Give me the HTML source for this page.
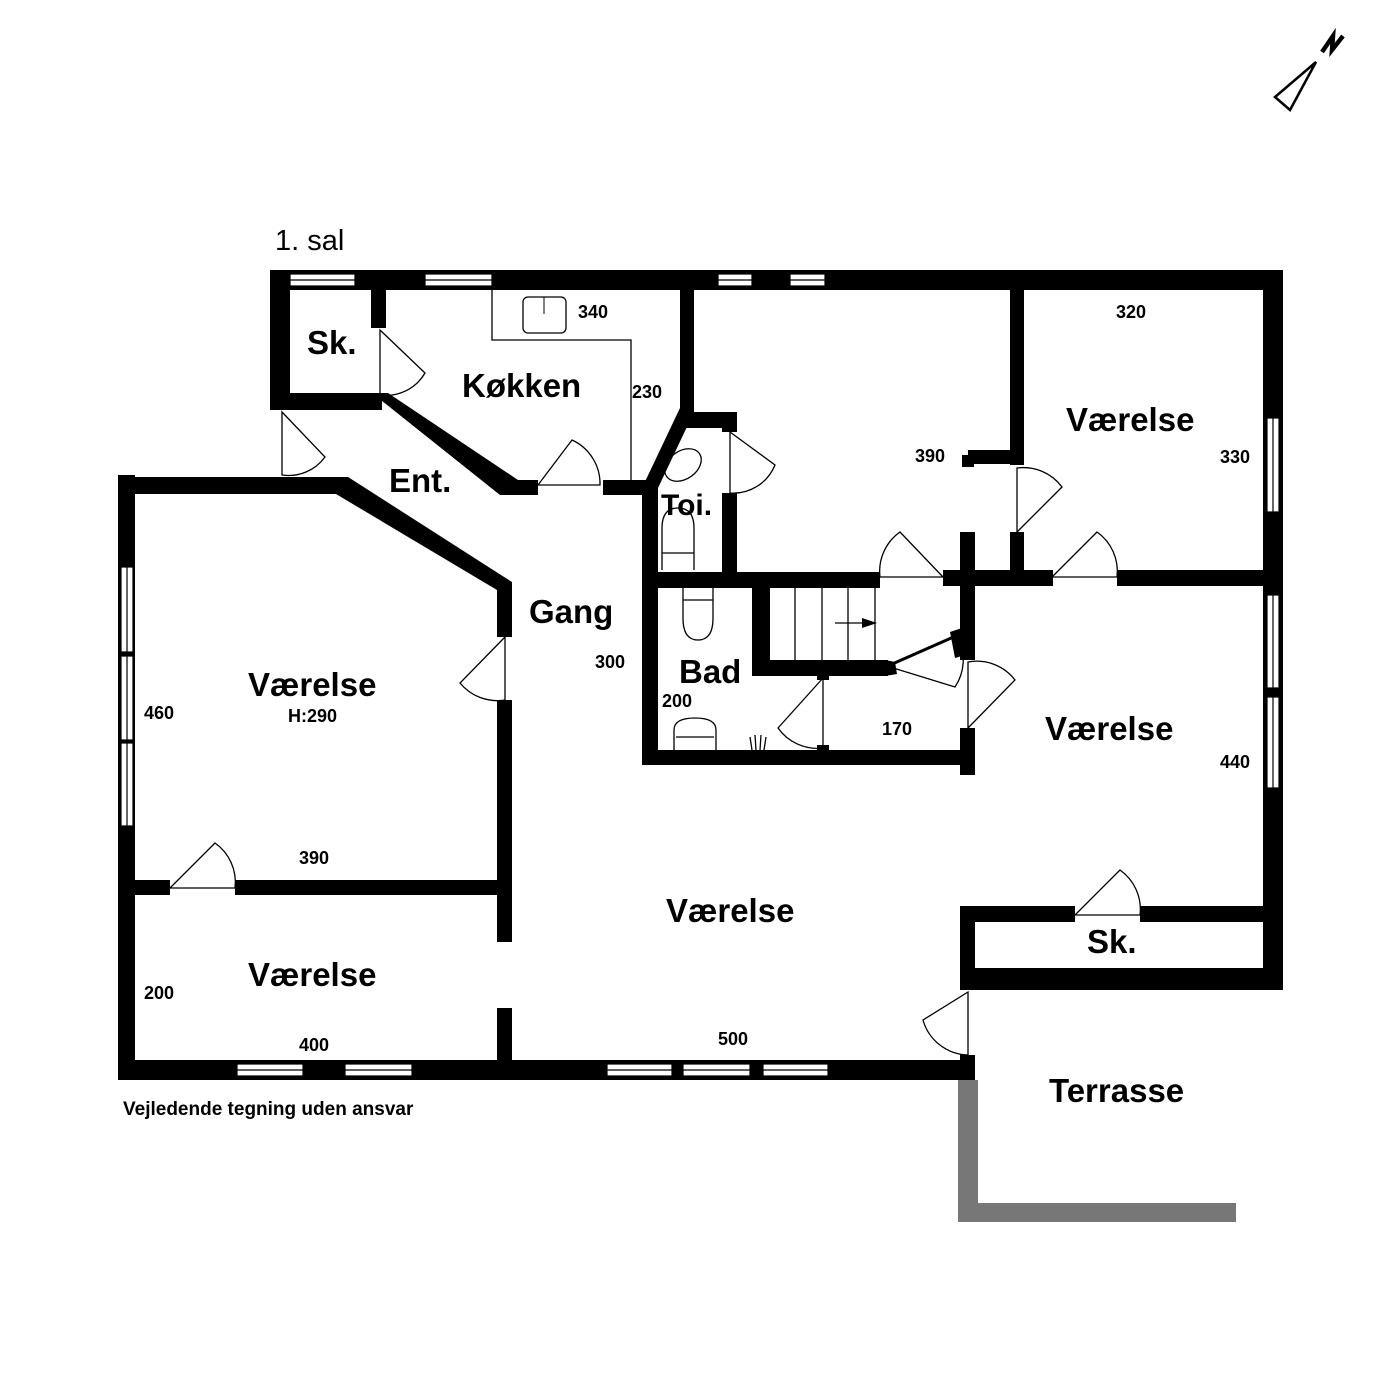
<!DOCTYPE html>
<html><head><style>
body{margin:0;background:#fff}
svg{display:block}
text{font-family:"Liberation Sans",Arial,sans-serif;fill:#000;font-weight:bold}
.r{font-size:33px}
.d{font-size:18px}
.door{fill:none;stroke:#000;stroke-width:1.3}
.win{fill:#fff;stroke:#000;stroke-width:1.2}
</style></head><body>
<svg width="1400" height="1400" viewBox="0 0 1400 1400" xmlns="http://www.w3.org/2000/svg">
<rect width="1400" height="1400" fill="#fff"/>
<!-- north arrow -->
<polygon points="1275,97 1290,110 1316,62" fill="none" stroke="#000" stroke-width="2.5"/>
<path d="M1322,52 L1333,36 L1332,50 L1343,36" fill="none" stroke="#000" stroke-width="4.5"/>
<g fill="#000">
<rect x="270" y="270" width="1013" height="20"/>
<rect x="1263" y="270" width="20" height="720"/>
<rect x="270" y="270" width="20" height="140"/>
<rect x="270" y="393" width="112" height="17"/>
<rect x="371" y="290" width="15" height="38"/>
<polygon points="372,393 388,393 518,480 510,495 500,495"/>
<rect x="505" y="480" width="33" height="15"/>
<rect x="603" y="480" width="55" height="15"/>
<rect x="680" y="290" width="14" height="122"/>
<polygon points="680,408 694,412 658,488 642,488"/>
<rect x="680" y="412" width="57" height="16"/>
<rect x="642" y="480" width="16" height="285"/>
<rect x="722" y="412" width="15" height="20"/>
<rect x="722" y="493" width="15" height="85"/>
<rect x="642" y="572" width="238" height="16"/>
<rect x="752" y="572" width="18" height="104"/>
<rect x="752" y="660" width="136" height="16"/>
<polygon points="885,660 895,662 897,674 885,676"/>
<rect x="817" y="672" width="12" height="8"/>
<rect x="817" y="745" width="12" height="8"/>
<rect x="943" y="570" width="110" height="16"/>
<rect x="960" y="532" width="15" height="128"/>
<polygon points="950,632 962,628 962,656 955,658"/>
<rect x="960" y="728" width="15" height="47"/>
<rect x="1117" y="570" width="166" height="16"/>
<rect x="1010" y="290" width="14" height="175"/>
<rect x="1010" y="532" width="14" height="42"/>
<rect x="968" y="450" width="48" height="14"/>
<rect x="962" y="455" width="12" height="12"/>
<rect x="642" y="750" width="333" height="15"/>
<rect x="118" y="475" width="17" height="605"/>
<rect x="118" y="477" width="227" height="17"/>
<polygon points="340,477 348,477 512,582 512,596 497,596 497,590 336,494"/>
<rect x="497" y="590" width="15" height="47"/>
<rect x="497" y="700" width="15" height="242"/>
<rect x="497" y="1008" width="15" height="60"/>
<rect x="118" y="880" width="52" height="15"/>
<rect x="235" y="880" width="262" height="15"/>
<rect x="118" y="1060" width="857" height="20"/>
<rect x="960" y="906" width="115" height="16"/>
<rect x="1140" y="906" width="143" height="16"/>
<rect x="960" y="968" width="323" height="22"/>
<rect x="960" y="906" width="15" height="84"/>
<rect x="960" y="1055" width="15" height="25"/>
</g>
<polygon points="958,1080 978,1080 978,1203 1236,1203 1236,1222 958,1222" fill="#777"/>
<g class="win">
<rect x="290" y="274" width="65" height="12"/><line x1="290" y1="280" x2="355" y2="280" stroke="#000"/>
<rect x="425" y="274" width="67" height="12"/><line x1="425" y1="280" x2="492" y2="280" stroke="#000"/>
<rect x="718" y="274" width="34" height="12"/><line x1="718" y1="280" x2="752" y2="280" stroke="#000"/>
<rect x="790" y="274" width="35" height="12"/><line x1="790" y1="280" x2="825" y2="280" stroke="#000"/>
<rect x="1267" y="418" width="12" height="94"/><line x1="1273" y1="418" x2="1273" y2="512" stroke="#000"/>
<rect x="1267" y="595" width="12" height="93"/><line x1="1273" y1="595" x2="1273" y2="688" stroke="#000"/>
<rect x="1267" y="697" width="12" height="91"/><line x1="1273" y1="697" x2="1273" y2="788" stroke="#000"/>
<rect x="121" y="567" width="12" height="85"/><line x1="127" y1="567" x2="127" y2="652" stroke="#000"/>
<rect x="121" y="656" width="12" height="84"/><line x1="127" y1="656" x2="127" y2="740" stroke="#000"/>
<rect x="121" y="743" width="12" height="83"/><line x1="127" y1="743" x2="127" y2="826" stroke="#000"/>
<rect x="237" y="1064" width="66" height="12"/><line x1="237" y1="1070" x2="303" y2="1070" stroke="#000"/>
<rect x="345" y="1064" width="67" height="12"/><line x1="345" y1="1070" x2="412" y2="1070" stroke="#000"/>
<rect x="607" y="1064" width="65" height="12"/><line x1="607" y1="1070" x2="672" y2="1070" stroke="#000"/>
<rect x="683" y="1064" width="67" height="12"/><line x1="683" y1="1070" x2="750" y2="1070" stroke="#000"/>
<rect x="763" y="1064" width="65" height="12"/><line x1="763" y1="1070" x2="828" y2="1070" stroke="#000"/>
</g>
<path d="M492,290 L492,340 L631,340 L631,480" class="door"/>
<rect x="523" y="297" width="43" height="36" rx="5" class="door"/>
<line x1="544" y1="297" x2="544" y2="314" stroke="#000"/>
<g stroke="#000" stroke-width="1.3">
<line x1="795" y1="588" x2="795" y2="660"/><line x1="822" y1="588" x2="822" y2="660"/>
<line x1="848" y1="588" x2="848" y2="660"/><line x1="875" y1="588" x2="875" y2="660"/>
<line x1="835" y1="623" x2="868" y2="623"/>
</g>
<polygon points="862,618 877,623 862,628" fill="#000"/>
<g class="door">
<ellipse cx="683" cy="465" rx="20" ry="14" transform="rotate(-35 683 465)"/>
<path d="M662,570 L662,528 Q662,508 678,508 Q694,508 694,528 L694,570"/><line x1="662" y1="553" x2="694" y2="553"/>
<path d="M683,588 L683,618 Q683,640 698,640 Q713,640 713,618 L713,588"/><line x1="683" y1="600" x2="713" y2="600"/>
<path d="M674,750 L674,730 Q674,718 695,718 Q716,718 716,730 L716,750"/><line x1="676" y1="737" x2="714" y2="737"/>
<path d="M752,750 L750,737 M756,750 L755,735 M760,750 L761,735 M764,750 L766,737"/>
</g>
<g class="door">
<path d="M538,485 L572,440 A48,48 0 0 1 600,485 Z"/>
<path d="M380,330 L425,373 A45,45 0 0 1 380,395 Z"/>
<path d="M282,412 L325,457 A45,45 0 0 1 282,475 Z"/>
<path d="M730,432 L775,465 A45,45 0 0 1 730,493 Z"/>
<path d="M943,577 L900,532 A48,48 0 0 0 880,577 Z"/>
<path d="M1017,532 L1062,487 A48,48 0 0 0 1017,468 Z"/>
<path d="M1052,577 L1097,532 A48,48 0 0 1 1117,577 Z"/>
<path d="M823,678 L778,728 A48,48 0 0 0 823,748 Z"/>
<path d="M890,667 L955,687 A50,50 0 0 0 958,637"/>
<path d="M968,728 L1015,680 A48,48 0 0 0 968,662 Z"/>
<path d="M505,637 L460,683 A48,48 0 0 0 505,700 Z"/>
<path d="M170,888 L215,843 A48,48 0 0 1 235,888 Z"/>
<path d="M1075,915 L1120,870 A48,48 0 0 1 1140,915 Z"/>
<path d="M968,992 L923,1020 A48,48 0 0 0 968,1055 Z"/>
</g>
<line x1="890" y1="665" x2="958" y2="635" stroke="#000" stroke-width="3"/>
<text x="275" y="250" style="font-size:29px;font-weight:normal">1. sal</text>
<text x="307" y="354" class="r">Sk.</text>
<text x="462" y="397" class="r">Køkken</text>
<text x="389" y="492" class="r">Ent.</text>
<text x="661" y="515" class="r" style="font-size:30px">Toi.</text>
<text x="529" y="623" class="r">Gang</text>
<text x="679" y="683" class="r">Bad</text>
<text x="1066" y="431" class="r">Værelse</text>
<text x="248" y="696" class="r">Værelse</text>
<text x="288" y="722" class="d">H:290</text>
<text x="1045" y="740" class="r">Værelse</text>
<text x="666" y="922" class="r">Værelse</text>
<text x="248" y="986" class="r">Værelse</text>
<text x="1087" y="953" class="r">Sk.</text>
<text x="1049" y="1102" class="r">Terrasse</text>
<text x="578" y="318" class="d">340</text>
<text x="632" y="398" class="d">230</text>
<text x="1116" y="318" class="d">320</text>
<text x="915" y="462" class="d">390</text>
<text x="1220" y="463" class="d">330</text>
<text x="595" y="668" class="d">300</text>
<text x="662" y="707" class="d">200</text>
<text x="882" y="735" class="d">170</text>
<text x="144" y="719" class="d">460</text>
<text x="1220" y="768" class="d">440</text>
<text x="299" y="864" class="d">390</text>
<text x="144" y="999" class="d">200</text>
<text x="299" y="1051" class="d">400</text>
<text x="718" y="1045" class="d">500</text>
<text x="123" y="1115" style="font-size:19px">Vejledende tegning uden ansvar</text>
</svg>
</body></html>
